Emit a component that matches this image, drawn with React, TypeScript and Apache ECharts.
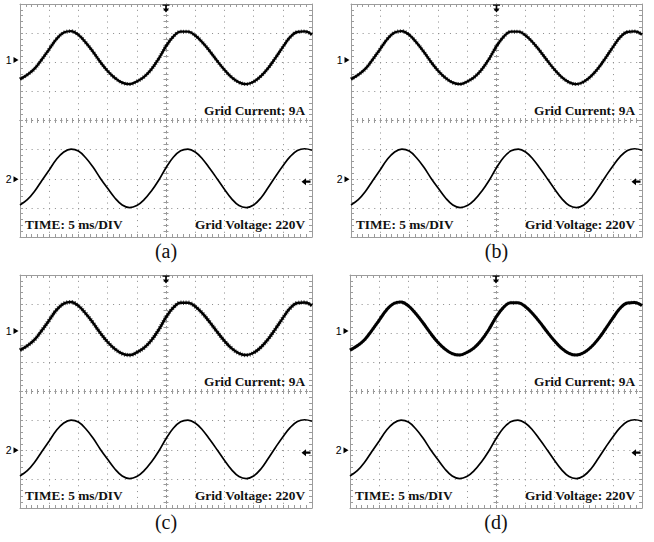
import React, { useEffect, useRef } from 'react';
import * as echarts from 'echarts';

// time relative to trigger (ms), 5 ms/div, 10 divisions
const timeMs = [-25, -23.75, -22.5, -21.25, -20, -18.75, -17.5, -16.25, -15, -13.75, -12.5, -11.25, -10, -8.75, -7.5, -6.25, -5, -3.75, -2.5, -1.25, 0, 1.25, 2.5, 3.75, 5, 6.25, 7.5, 8.75, 10, 11.25, 12.5, 13.75, 15, 16.25, 17.5, 18.75, 20, 21.25, 22.5, 23.75, 25];
// channel 1 (grid current) in screen divisions
const gridCurrent = [1.42, 1.57, 1.78, 2.10, 2.45, 2.80, 3.02, 3.07, 2.94, 2.68, 2.36, 2.01, 1.70, 1.46, 1.30, 1.25, 1.34, 1.50, 1.76, 2.12, 2.55, 2.88, 3.05, 3.05, 2.92, 2.68, 2.38, 2.05, 1.74, 1.48, 1.31, 1.25, 1.33, 1.52, 1.80, 2.15, 2.52, 2.86, 3.04, 3.06, 2.95];
// channel 2 (grid voltage) in screen divisions
const gridVoltage = [-2.90, -2.72, -2.43, -2.06, -1.70, -1.33, -1.08, -0.98, -1.05, -1.28, -1.60, -1.98, -2.33, -2.66, -2.90, -2.99, -2.92, -2.72, -2.42, -2.05, -1.62, -1.26, -1.04, -0.98, -1.08, -1.32, -1.65, -2.00, -2.36, -2.69, -2.92, -2.99, -2.90, -2.66, -2.30, -1.92, -1.56, -1.24, -1.03, -0.97, -1.02];
const panelLabels = ['(a)', '(b)', '(c)', '(d)'];
const currentText = 'Grid Current: 9A';
const voltageText = 'Grid Voltage: 220V';
const timeText = 'TIME: 5 ms/DIV';
const ch1Ref = 2.08;
const ch2Ref = -2.02;
const trigLevel = -2.1;
// trace rendering per panel (thickness of the noisy current trace)
const currentWidths = [2.4, 2.4, 2.5, 3.0];
const fuzzWidths = [3.8, 3.8, 4.2, 3.6];

const PANELS = [
  { left: 20, top: 4, width: 292, height: 233 },
  { left: 351, top: 4, width: 291, height: 233 },
  { left: 20, top: 275, width: 292, height: 233 },
  { left: 350, top: 275, width: 292, height: 233 },
];

const BORDER = '#9c9c9c';
const DOT = '#8a8a8a';
const SERIF = '"Liberation Serif", "Times New Roman", serif';

const ARROW_RIGHT = 'path://M0,0 L10,5 L0,10 Z';
const ARROW_LEFT = 'path://M0,5 L6,0 L6,3.5 L12,3.5 L12,6.5 L6,6.5 L6,10 Z';
const ARROW_DOWN = 'path://M0,0 L10,0 L10,1.6 L6.2,1.6 L6.2,5 L9.5,5 L5,10 L0.5,5 L3.8,5 L3.8,1.6 L0,1.6 Z';

function buildOption() {
  const xAxis: any[] = [];
  const yAxis: any[] = [];
  const series: any[] = [];
  const graphic: any[] = [];

  PANELS.forEach((p, g) => {
    const mkX = (position: string, onZero: boolean, split: boolean, len: number) => ({
      type: 'value', gridIndex: g, min: -25, max: 25, interval: 5, position,
      axisLine: onZero
        ? { show: true, onZero: true, onZeroAxisIndex: 4 * g, lineStyle: { color: DOT, width: 1, type: [1, 4.84] } }
        : { show: true, onZero: false, lineStyle: { color: BORDER, width: 1 } },
      axisTick: { show: true, inside: true, length: len, lineStyle: { color: BORDER, width: 1 } },
      minorTick: { show: true, splitNumber: 5, length: len, lineStyle: { color: BORDER, width: 1 } },
      axisLabel: { show: false },
      splitLine: split ? { show: true, lineStyle: { color: DOT, width: 1, type: [1, 4.84] } } : { show: false },
      silent: true,
    });
    const mkY = (position: string, onZero: boolean, split: boolean, len: number) => ({
      type: 'value', gridIndex: g, min: -4, max: 4, interval: 1, position,
      axisLine: onZero
        ? { show: true, onZero: true, onZeroAxisIndex: 4 * g, lineStyle: { color: DOT, width: 1, type: [1, 4.82] } }
        : { show: true, onZero: false, lineStyle: { color: BORDER, width: 1 } },
      axisTick: { show: true, inside: true, length: len, lineStyle: { color: BORDER, width: 1 } },
      minorTick: { show: true, splitNumber: 5, length: len, lineStyle: { color: BORDER, width: 1 } },
      axisLabel: { show: false },
      splitLine: split ? { show: true, lineStyle: { color: DOT, width: 1, type: [1, 4.82] } } : { show: false },
      silent: true,
    });
    xAxis.push(mkX('bottom', false, true, 3), mkX('top', false, false, 3), mkX('bottom', true, false, 2.5), mkX('top', true, false, 2.5));
    yAxis.push(mkY('left', false, true, 3), mkY('right', false, false, 3), mkY('left', true, false, 2.5), mkY('right', true, false, 2.5));

    const currentData = timeMs.map((t, i) => [t, gridCurrent[i]]);
    series.push({
      type: 'line', name: 'Grid Current', xAxisIndex: 4 * g, yAxisIndex: 4 * g,
      data: currentData,
      showSymbol: false, symbol: 'none', smooth: 0.4, silent: true,
      lineStyle: { color: '#000', width: currentWidths[g] },
      markPoint: {
        silent: true,
        data: [
          {
            coord: [-25, ch1Ref], symbol: ARROW_RIGHT, symbolSize: [5, 6], symbolOffset: [-4, 0],
            itemStyle: { color: '#000' },
            label: { show: true, formatter: '1', position: 'left', distance: 2, color: '#000', fontSize: 10.5, fontFamily: '"Liberation Sans", Arial, sans-serif' },
          },
          {
            coord: [0, 4], symbol: ARROW_DOWN, symbolSize: [7, 8], symbolOffset: [0, 4.5],
            itemStyle: { color: '#000' }, label: { show: false },
          },
        ],
      },
    });
    // noisy edge of the current trace
    series.push({
      type: 'line', name: 'Grid Current noise', xAxisIndex: 4 * g, yAxisIndex: 4 * g,
      data: currentData,
      showSymbol: false, symbol: 'none', smooth: 0.4, silent: true,
      lineStyle: { color: '#000', width: fuzzWidths[g], type: [1, 1.6], opacity: g === 3 ? 0.35 : 0.7 },
    });
    series.push({
      type: 'line', name: 'Grid Voltage', xAxisIndex: 4 * g, yAxisIndex: 4 * g,
      data: timeMs.map((t, i) => [t, gridVoltage[i]]),
      showSymbol: false, symbol: 'none', smooth: 0.4, silent: true,
      lineStyle: { color: '#000', width: 1.7 },
      markPoint: {
        silent: true,
        data: [
          {
            coord: [-25, ch2Ref], symbol: ARROW_RIGHT, symbolSize: [5, 6], symbolOffset: [-4, 0],
            itemStyle: { color: '#000' },
            label: { show: true, formatter: '2', position: 'left', distance: 2, color: '#000', fontSize: 10.5, fontFamily: '"Liberation Sans", Arial, sans-serif' },
          },
          {
            coord: [25, trigLevel], symbol: ARROW_LEFT, symbolSize: [9, 7], symbolOffset: [-6, 0],
            itemStyle: { color: '#000' }, label: { show: false },
          },
        ],
      },
    });

    const right = p.left + p.width - 7;
    const txt = (text: string, x: number, y: number, align: string, font: string) => ({
      type: 'text', x, y, silent: true,
      style: { text, font, fill: '#111', align, verticalAlign: 'middle', textAlign: align, textVerticalAlign: 'middle' },
    });
    const bold = `bold 13.3px ${SERIF}`;
    graphic.push(txt(currentText, right, p.top + 106.5, 'right', bold));
    graphic.push(txt(voltageText, right, p.top + 220, 'right', bold));
    graphic.push(txt(timeText, p.left + 5, p.top + 220, 'left', bold));
    graphic.push(txt(panelLabels[g], p.left + p.width / 2, p.top + p.height + 13.5, 'center', `20px ${SERIF}`));
  });

  return {
    animation: false,
    backgroundColor: '#fff',
    grid: PANELS.map((p) => ({ left: p.left, top: p.top, width: p.width, height: p.height, show: false })),
    xAxis,
    yAxis,
    series,
    graphic,
  };
}

export default function App() {
  const ref = useRef<HTMLDivElement>(null);
  useEffect(() => {
    if (!ref.current) return;
    const chart = echarts.init(ref.current, null, { renderer: 'svg' });
    chart.setOption(buildOption() as any);
    return () => chart.dispose();
  }, []);
  return (
    <div
      ref={ref}
      style={{ position: 'fixed', left: 0, top: 0, width: 654, height: 542, background: '#fff' }}
    />
  );
}
